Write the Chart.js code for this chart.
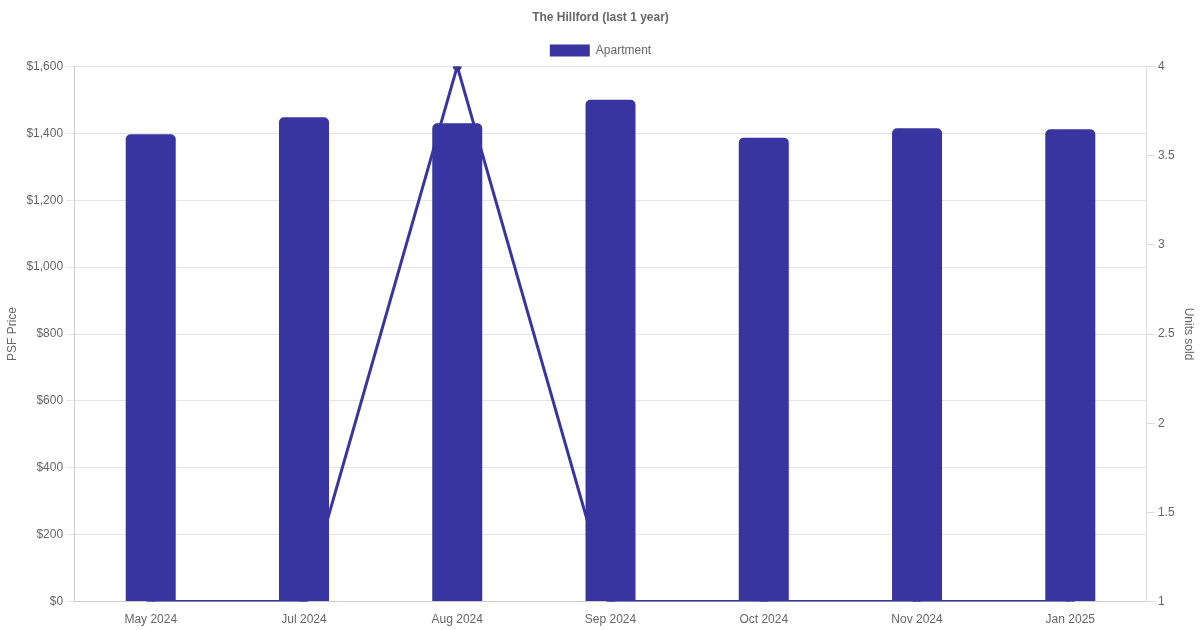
<!DOCTYPE html>
<html><head><meta charset="utf-8">
<script src="https://cdn.jsdelivr.net/npm/chart.js@4/dist/chart.umd.min.js"></script>
<style>html,body{margin:0;padding:0;background:#fff}#wrap{width:1200px;height:630px}</style>
</head><body><div id="wrap"><canvas id="c"></canvas></div>
<script>
const categories = ['May 2024','Jul 2024','Aug 2024','Sep 2024','Oct 2024','Nov 2024','Jan 2025'];
const psfPrice = [1397, 1448, 1430, 1500, 1387, 1415, 1412];
const unitsSold = [1, 1, 4, 1, 1, 1, 1];
const priceTicks = [0, 200, 400, 600, 800, 1000, 1200, 1400, 1600];

Chart.defaults.font.family = '"Liberation Sans", Arial, Helvetica, sans-serif';
Chart.defaults.font.size = 12;
Chart.defaults.color = '#666';

new Chart(document.getElementById('c'), {
  data: {
    labels: categories,
    datasets: [
      { type: 'bar', label: 'Apartment', data: psfPrice, yAxisID: 'y',
        backgroundColor: '#3935a0', borderColor: '#3935a0', borderWidth: 0,
        borderRadius: 5, borderSkipped: 'bottom', maxBarThickness: 50 },
      { type: 'line', label: 'Units', data: unitsSold, yAxisID: 'y1',
        borderColor: '#3935a0', backgroundColor: '#3935a0', borderWidth: 3,
        pointRadius: 3, fill: false, tension: 0 }
    ]
  },
  options: {
    responsive: true, maintainAspectRatio: false, animation: false,
    layout: { padding: { left: 1, right: 0, top: 0, bottom: 0 } },
    plugins: {
      title: { display: true, text: 'The Hillford (last 1 year)', font: { weight: 'bold', size: 12 }, color: '#666' },
      legend: { labels: { filter: (item) => item.text === 'Apartment', boxWidth: 40, boxHeight: 12 } },
      tooltip: { enabled: false }
    },
    scales: {
      x: { grid: { display: false, drawOnChartArea: false }, offset: true,
           border: { color: '#ccc' } },
      y: { position: 'left', min: 0, max: 1600,
           afterBuildTicks: (s) => { s.ticks = priceTicks.map(v => ({ value: v })); },
           ticks: { callback: (v) => '$' + v.toLocaleString('en-US') },
           title: { display: true, text: 'PSF Price' },
           grid: { color: '#e5e5e5' }, border: { color: '#ccc' } },
      y1: { position: 'right', min: 1, max: 4,
            ticks: { stepSize: 0.5, callback: (v) => String(v) },
            title: { display: true, text: 'Units sold' },
            grid: { drawOnChartArea: false, color: '#ddd' }, border: { color: '#ddd' } }
    }
  }
});
</script></body></html>
